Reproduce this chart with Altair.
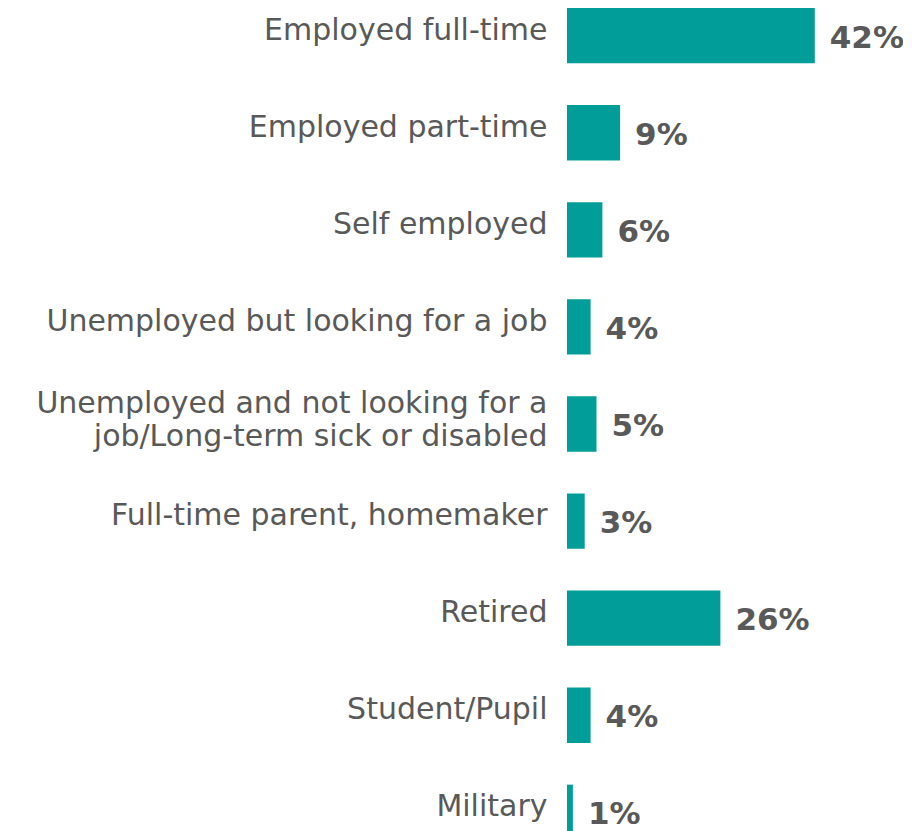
import altair as alt
import pandas as pd

categories = [
    "Employed full-time",
    "Employed part-time",
    "Self employed",
    "Unemployed but looking for a job",
    "Unemployed and not looking for a|job/Long-term sick or disabled",
    "Full-time parent, homemaker",
    "Retired",
    "Student/Pupil",
    "Military",
]
values = [42, 9, 6, 4, 5, 3, 26, 4, 1]

df = pd.DataFrame({"cat": categories, "val": values})
df["label"] = df["val"].astype(str) + "%"

TEAL = "#019D99"
GRAY = "#595959"

y_enc = alt.Y(
    "cat:N",
    sort=None,
    scale=alt.Scale(paddingInner=0.43, paddingOuter=0),
    axis=alt.Axis(
        title=None,
        domain=False,
        ticks=False,
        grid=False,
        labelPadding=20,
        labelOffset={"condition": {"test": "indexof(datum.label, '|') >= 0", "value": -20}, "value": -5},
        labelFont="DejaVu Sans",
        labelFontSize=30,
        labelColor=GRAY,
        labelLimit=600,
        labelLineHeight=33,
        labelExpr="split(datum.label, '|')",
    ),
)
x_enc = alt.X("val:Q", scale=alt.Scale(domain=[0, 57]), axis=None)

bars = alt.Chart(df).mark_bar(color=TEAL).encode(x=x_enc, y=y_enc)
text = alt.Chart(df).mark_text(
    align="left", baseline="middle", dx=15, dy=3,
    font="DejaVu Sans", fontWeight="bold", fontSize=31, color=GRAY,
).encode(x=x_enc, y=alt.Y("cat:N", sort=None), text="label:N")

chart = (
    alt.layer(bars, text)
    .properties(
        width=336.3,
        height=832,
        autosize=alt.AutoSizeParams(type="none"),
        padding={"left": 559, "top": 0, "right": 0, "bottom": 0},
    )
    .configure_view(strokeWidth=0, stroke="transparent")
)
chart.save("out.html", embed_options={"renderer": "svg", "actions": False})
